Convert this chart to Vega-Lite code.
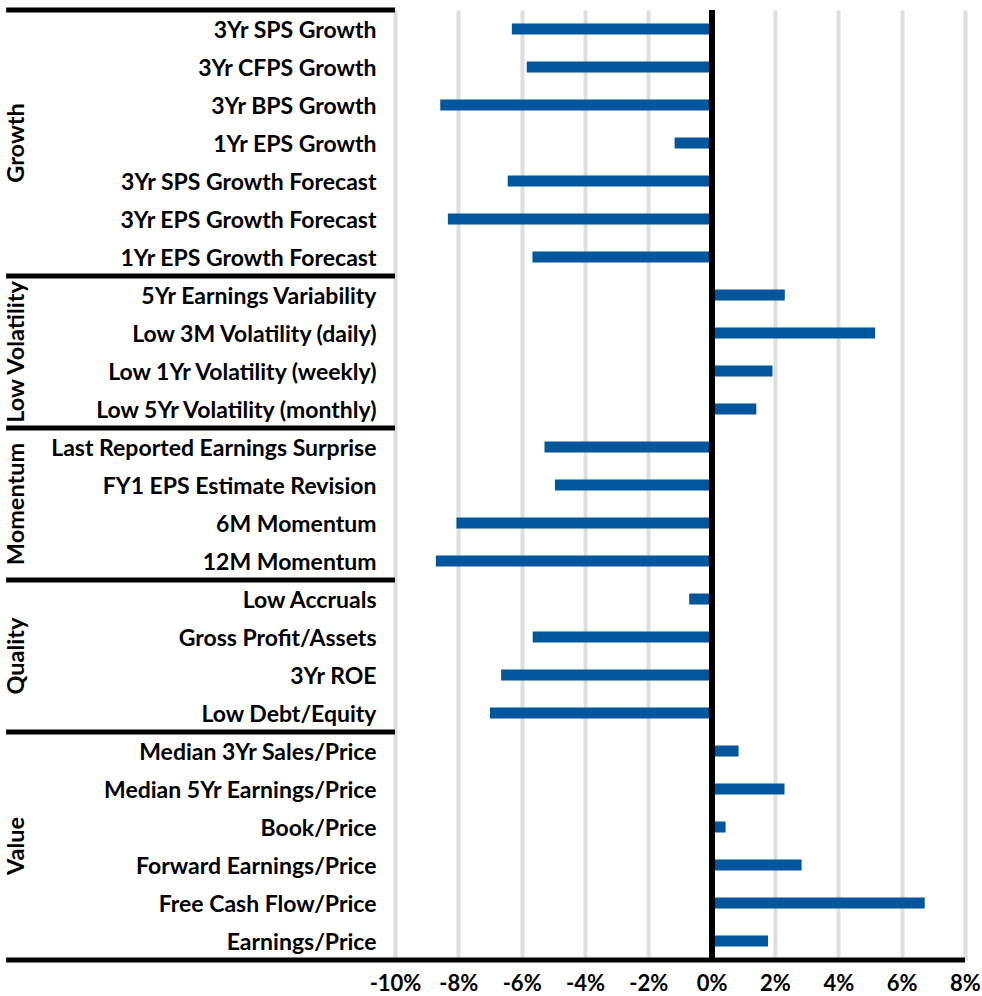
{
  "$schema": "https://vega.github.io/schema/vega-lite/v6.json",
  "autosize": {"type": "none"},
  "padding": {"left": 395, "top": 10, "right": 17, "bottom": 36},
  "width": 570,
  "height": 950,
  "background": "white",
  "config": {
    "view": {"stroke": null},
    "font": "Lato"
  },
  "data": {
    "values": [
      {"group": "Growth", "factor": "3Yr SPS Growth", "value": -6.31},
      {"group": "Growth", "factor": "3Yr CFPS Growth", "value": -5.84},
      {"group": "Growth", "factor": "3Yr BPS Growth", "value": -8.57},
      {"group": "Growth", "factor": "1Yr EPS Growth", "value": -1.17},
      {"group": "Growth", "factor": "3Yr SPS Growth Forecast", "value": -6.44},
      {"group": "Growth", "factor": "3Yr EPS Growth Forecast", "value": -8.33},
      {"group": "Growth", "factor": "1Yr EPS Growth Forecast", "value": -5.66},
      {"group": "Low Volatility", "factor": "5Yr Earnings Variability", "value": 2.31},
      {"group": "Low Volatility", "factor": "Low 3M Volatility (daily)", "value": 5.16},
      {"group": "Low Volatility", "factor": "Low 1Yr Volatility (weekly)", "value": 1.92},
      {"group": "Low Volatility", "factor": "Low 5Yr Volatility (monthly)", "value": 1.41},
      {"group": "Momentum", "factor": "Last Reported Earnings Surprise", "value": -5.28},
      {"group": "Momentum", "factor": "FY1 EPS Estimate Revision", "value": -4.95},
      {"group": "Momentum", "factor": "6M Momentum", "value": -8.06},
      {"group": "Momentum", "factor": "12M Momentum", "value": -8.71},
      {"group": "Quality", "factor": "Low Accruals", "value": -0.71},
      {"group": "Quality", "factor": "Gross Profit/Assets", "value": -5.65},
      {"group": "Quality", "factor": "3Yr ROE", "value": -6.65},
      {"group": "Quality", "factor": "Low Debt/Equity", "value": -7.0},
      {"group": "Value", "factor": "Median 3Yr Sales/Price", "value": 0.85},
      {"group": "Value", "factor": "Median 5Yr Earnings/Price", "value": 2.3},
      {"group": "Value", "factor": "Book/Price", "value": 0.44},
      {"group": "Value", "factor": "Forward Earnings/Price", "value": 2.84},
      {"group": "Value", "factor": "Free Cash Flow/Price", "value": 6.73},
      {"group": "Value", "factor": "Earnings/Price", "value": 1.78}
    ]
  },
  "layer": [
    {
      "encoding": {
        "x": {
          "field": "value",
          "type": "quantitative",
          "scale": {"domain": [-10, 8], "nice": false, "zero": false},
          "axis": {
            "title": null,
            "values": [-10, -8, -6, -4, -2, 0, 2, 4, 6, 8],
            "labelExpr": "datum.value + '%'",
            "grid": true,
            "gridColor": "#dedede",
            "gridWidth": 4,
            "domain": false,
            "ticks": false,
            "tickSize": 0,
            "labelPadding": 13,
            "labelFontSize": 22,
            "labelFontWeight": "bold",
            "labelColor": "#000000",
            "labelFlush": false
          }
        },
        "y": {
          "field": "factor",
          "type": "nominal",
          "sort": null,
          "scale": {"paddingInner": 0, "paddingOuter": 0},
          "axis": {
            "title": null,
            "domain": false,
            "ticks": false,
            "tickSize": 0,
            "grid": false,
            "labelPadding": 19,
            "labelOffset": 2,
            "labelFontSize": 23,
            "labelFontWeight": "bold",
            "labelColor": "#000000",
            "labelLimit": 400
          }
        }
      },
      "layer": [
        {
          "mark": {"type": "bar", "size": 11, "color": "#02569b"}
        },
        {
          "mark": {"type": "rule", "color": "#000000", "strokeWidth": 5},
          "encoding": {"x": {"datum": 0}, "y": null}
        },
        {
          "transform": [
            {"window": [{"op": "row_number", "as": "rn"}], "groupby": ["group"]},
            {"filter": "datum.rn == 1"}
          ],
          "mark": {"type": "rule", "color": "#000000", "strokeWidth": 5, "clip": false},
          "encoding": {
            "x": {"datum": -22.28},
            "x2": {"datum": -10},
            "y": {"field": "factor", "type": "nominal", "sort": null, "bandPosition": 0}
          }
        },
        {
          "transform": [
            {"window": [{"op": "row_number", "as": "rn"}]},
            {"joinaggregate": [{"op": "count", "as": "n"}]},
            {"filter": "datum.rn == datum.n"}
          ],
          "mark": {"type": "rule", "color": "#000000", "strokeWidth": 5, "clip": false},
          "encoding": {
            "x": {"datum": -22.28},
            "x2": {"datum": 8},
            "y": {"field": "factor", "type": "nominal", "sort": null, "bandPosition": 1}
          }
        }
      ]
    },
    {
      "transform": [
        {"window": [{"op": "row_number", "as": "rn"}]},
        {"aggregate": [{"op": "mean", "field": "rn", "as": "mid"}], "groupby": ["group"]}
      ],
      "mark": {
        "type": "text",
        "angle": 270,
        "align": "center",
        "baseline": "middle",
        "fontSize": 23.5,
        "fontWeight": "bold",
        "color": "#000000",
        "clip": false
      },
      "encoding": {
        "x": {"datum": -21.94},
        "y": {
          "field": "mid",
          "type": "quantitative",
          "scale": {"domain": [0.5, 25.5], "reverse": true, "nice": false, "zero": false},
          "axis": null
        },
        "text": {"field": "group"}
      }
    }
  ],
  "resolve": {"scale": {"y": "independent"}, "axis": {"y": "independent"}}
}
